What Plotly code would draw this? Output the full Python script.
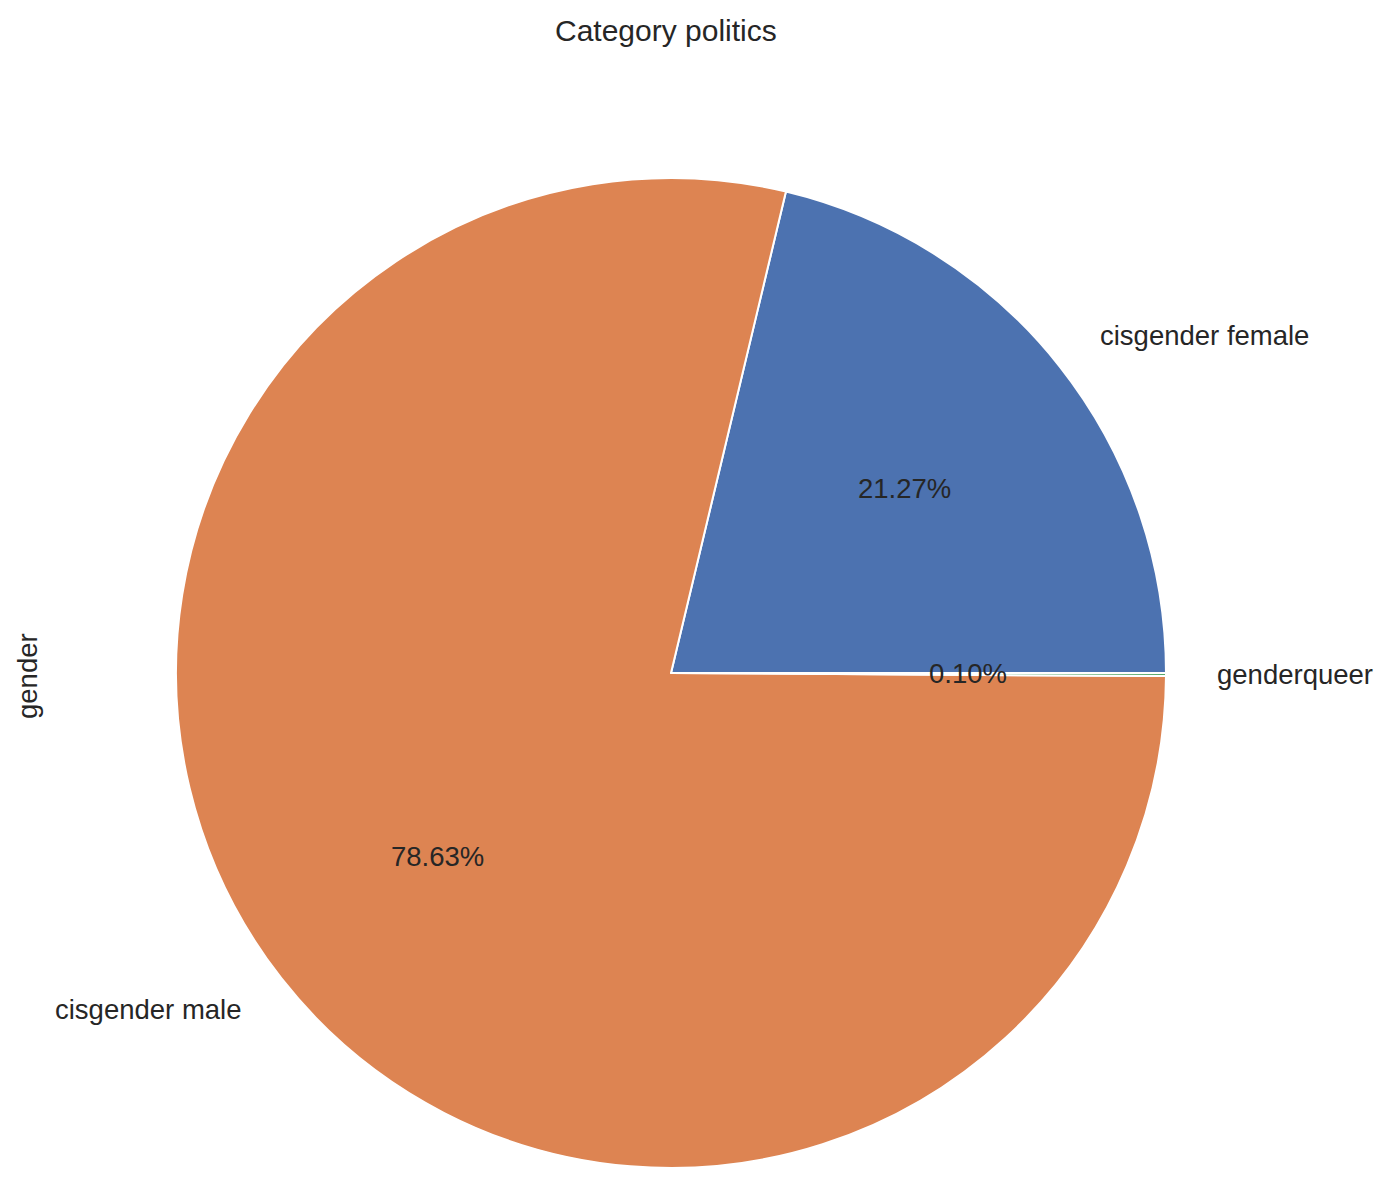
import math
import plotly.graph_objects as go

# Data
categories = ["cisgender female", "cisgender male", "genderqueer"]
shares = [21.27, 78.63, 0.10]
colors = ["#4C72B0", "#DD8452", "#55A868"]
title_text = "Category politics"
ylabel_text = "gender"

W, H = 1389, 1194
OFF = 8  # page body margin in the browser
cx, cy, R = 671 - OFF, 673 - OFF, 495  # pie center and radius in pixels
FONT = "Liberation Sans, Arial, sans-serif"
TXT = "#262626"

total = sum(shares)
# plotly counterclockwise: first slice ends at the rotation angle
rotation = 90 - 360 * shares[0] / total

fig = go.Figure(go.Pie(
    labels=categories,
    values=shares,
    sort=False,
    direction="counterclockwise",
    rotation=rotation,
    marker=dict(colors=colors, line=dict(color="white", width=2)),
    textinfo="none",
    hoverinfo="label+percent",
    showlegend=False,
    domain=dict(x=[(cx - R) / W, (cx + R) / W], y=[1 - (cy + R) / H, 1 - (cy - R) / H]),
))

annotations = []
start = 0.0
for lab, v in zip(categories, shares):
    frac = v / total
    mid = (start + frac / 2) * 2 * math.pi
    start += frac
    c, s = math.cos(mid), math.sin(mid)
    lx, ly = cx + 1.1 * R * c, cy - 1.1 * R * s
    annotations.append(dict(
        x=lx / W, y=1 - ly / H, xref="paper", yref="paper",
        text=lab, showarrow=False,
        xanchor="left" if c > 0 else "right", yanchor="middle",
        font=dict(family=FONT, size=27.5, color=TXT),
    ))
    px_, py_ = cx + 0.6 * R * c, cy - 0.6 * R * s
    annotations.append(dict(
        x=px_ / W, y=1 - py_ / H, xref="paper", yref="paper",
        text=f"{v / total * 100:.2f}%", showarrow=False,
        xanchor="center", yanchor="middle",
        font=dict(family=FONT, size=27.5, color=TXT),
    ))

annotations.append(dict(
    x=(666 - OFF) / W, y=1 - (30 - OFF) / H, xref="paper", yref="paper",
    text=title_text, showarrow=False, xanchor="center", yanchor="middle",
    font=dict(family=FONT, size=30, color=TXT),
))
annotations.append(dict(
    x=(27 - OFF) / W, y=1 - (676 - OFF) / H, xref="paper", yref="paper",
    text=ylabel_text, showarrow=False, xanchor="center", yanchor="middle",
    textangle=-90,
    font=dict(family=FONT, size=27.5, color=TXT),
))

fig.update_layout(
    width=W, height=H,
    margin=dict(l=0, r=0, t=0, b=0),
    paper_bgcolor="white", plot_bgcolor="white",
    annotations=annotations,
)

fig.write_html("out.html")
